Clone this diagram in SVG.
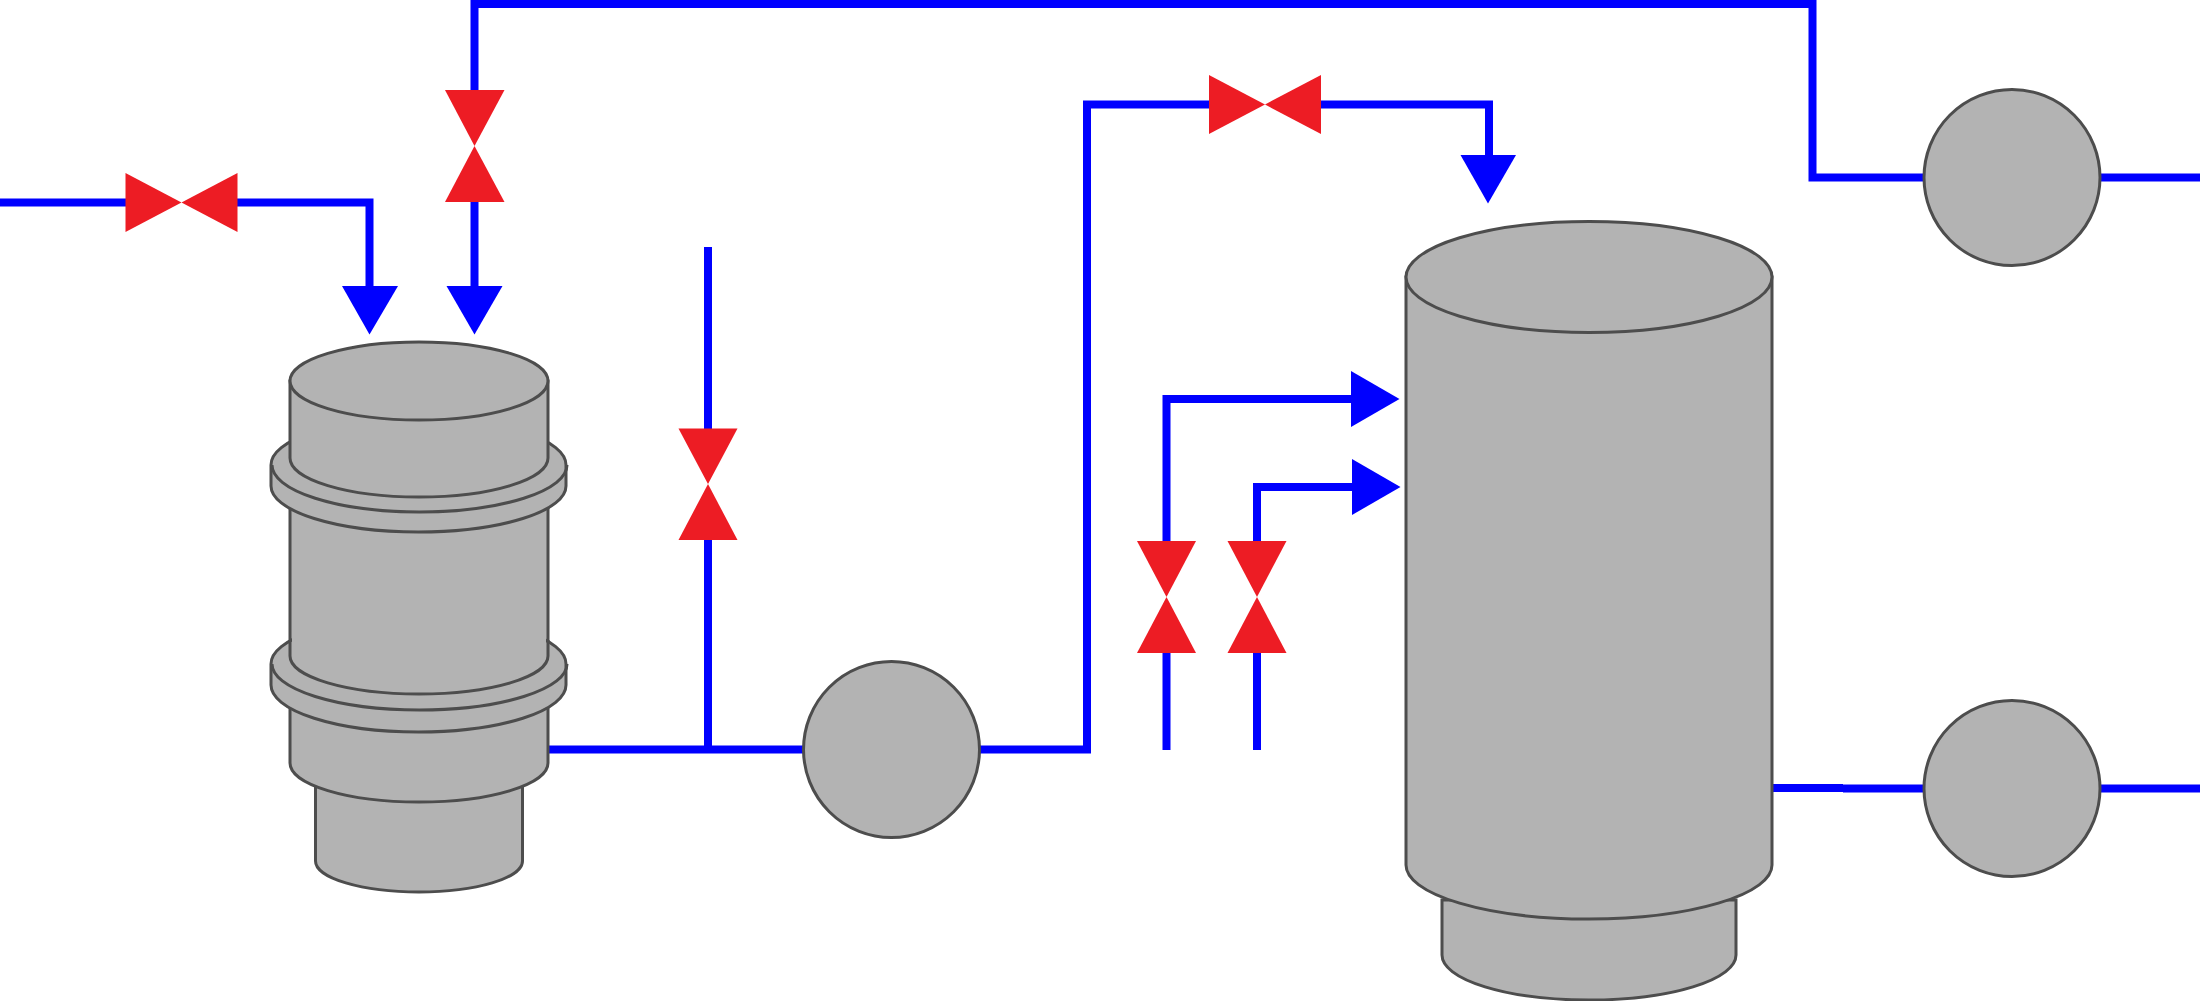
<svg xmlns="http://www.w3.org/2000/svg" width="2200" height="1001" viewBox="0 0 2200 1001">
<style>
.v{fill:#b3b3b3;stroke:#4d4d4d;stroke-width:3}
.o{fill:none;stroke:#4d4d4d;stroke-width:3}
.f{fill:#b3b3b3}
.p{fill:none;stroke:#0000ff;stroke-width:8}
.a{fill:#0000ff}
.r{fill:#ed1c24}
</style>
<rect width="2200" height="1001" fill="#ffffff"/>
<g id="connectors">
<path class="p" d="M0 202.500H126"/>
<path class="p" d="M237 202.500H369.500V290"/>
<path class="p" d="M2200 177.500H1812.500V4H474.500V95"/>
<path class="p" d="M474.500 202V290"/>
<path class="p" d="M708 247V429"/>
<path class="p" d="M708 539V750"/>
<path class="p" d="M547 749.500H1087V104.500H1210"/>
<path class="p" d="M1320 104.500H1489V160"/>
<path class="p" d="M1166.500 750V653"/>
<path class="p" d="M1166.500 542V399H1355"/>
<path class="p" d="M1257 750V653"/>
<path class="p" d="M1257 542V487H1355"/>
<path class="p" d="M1771 788H1843"/>
<path class="p" d="M1843 788.500H2200"/>
<polygon class="a" points="342,286 398,286 369.500,334.500"/>
<polygon class="a" points="446.500,286 502.500,286 474.500,334.500"/>
<polygon class="a" points="1460.500,155 1516,155 1488,203.500"/>
<polygon class="a" points="1351,371 1351,427 1399.500,399"/>
<polygon class="a" points="1352,459 1352,515 1400.500,487"/>
</g>
<g id="valve-1"><polygon class="r" points="125.500,173 181.500,202.500 125.500,232"/><polygon class="r" points="237.500,173 181.500,202.500 237.500,232"/></g>
<g id="valve-2"><polygon class="r" points="445,90 504.500,90 474.500,146"/><polygon class="r" points="445,202 504.500,202 474.500,146"/></g>
<g id="valve-3"><polygon class="r" points="678.500,428.500 737.500,428.500 708,484"/><polygon class="r" points="678.500,540 737.500,540 708,484"/></g>
<g id="valve-4"><polygon class="r" points="1209,75 1265,104.500 1209,134"/><polygon class="r" points="1321,75 1265,104.500 1321,134"/></g>
<g id="valve-5"><polygon class="r" points="1137,541 1196,541 1166.500,597"/><polygon class="r" points="1137,653 1196,653 1166.500,597"/></g>
<g id="valve-6"><polygon class="r" points="1227.500,541 1286.500,541 1257,597"/><polygon class="r" points="1227.500,653 1286.500,653 1257,597"/></g>
<g id="column">
<path class="v" d="M315.500 780V861A103.500 31 0 0 0 522.500 861V780Z"/>
<path class="v" d="M290 480V763A129 39 0 0 0 548 763V480Z"/>
<path class="v" d="M271 664V685A147.500 47 0 0 0 566 685V664A147.500 47 0 0 0 271 664Z"/>
<path class="o" d="M272 664A147.500 46 0 0 0 567 664"/>
<path class="f" d="M292 600V656A127 37 0 0 0 546 656V600Z"/>
<path class="o" d="M290 640V656A129 38 0 0 0 548 656V640"/>
<path class="v" d="M271 465V486A147.500 46 0 0 0 566 486V465A147.500 47 0 0 0 271 465Z"/>
<path class="o" d="M272 465A147.500 47 0 0 0 567 465"/>
<path class="v" d="M290 381V458A129 39 0 0 0 548 458V381Z"/>
<ellipse class="v" cx="419" cy="381" rx="129" ry="39"/>
</g>
<g id="tank">
<path class="v" d="M1442 900V955A147 45 0 0 0 1736 955V900Z"/>
<path class="v" d="M1406 277V865A183 54 0 0 0 1772 865V277Z"/>
<ellipse class="v" cx="1589" cy="277" rx="183" ry="55.500"/>
</g>
<g id="pump-1"><circle class="v" cx="891.500" cy="749.500" r="88"/></g>
<g id="pump-2"><circle class="v" cx="2012" cy="177.500" r="88"/></g>
<g id="pump-3"><circle class="v" cx="2012" cy="788.500" r="88"/></g>
</svg>
